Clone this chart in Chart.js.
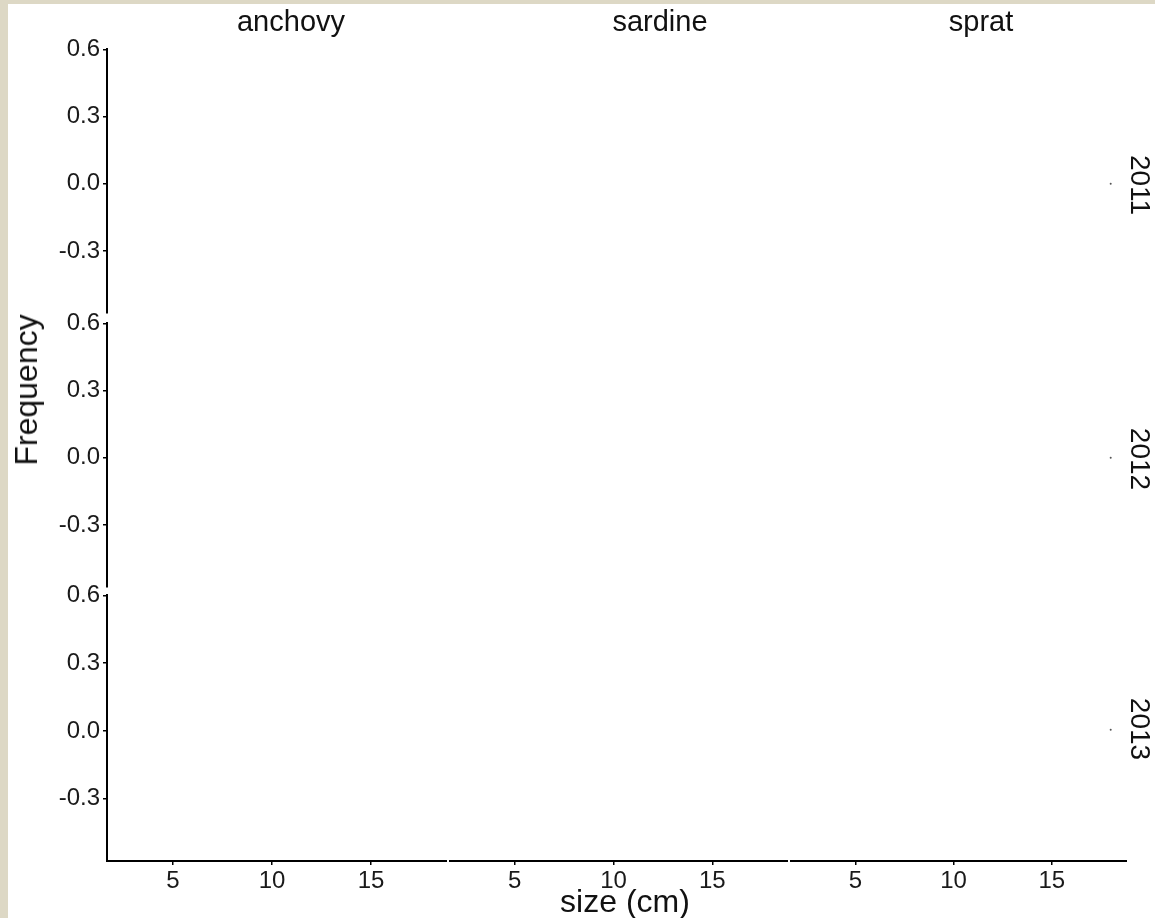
<!DOCTYPE html>
<html>
<head>
<meta charset="utf-8">
<script src="https://cdn.jsdelivr.net/npm/chart.js@4.4.1/dist/chart.umd.min.js"></script>
<style>
  html, body { margin: 0; padding: 0; }
  body { width: 1155px; height: 918px; background: #ddd8c5; position: relative; overflow: hidden;
         font-family: "Liberation Sans", Arial, sans-serif; }
  #page { position: absolute; left: 8px; top: 4px; right: 0; bottom: 0; background: #ffffff; }
  canvas { position: absolute; }
  .lbl { position: absolute; color: #111; white-space: nowrap; line-height: 1; }
</style>
</head>
<body>
<div id="page"></div>
<script>
// ---- data ----
const species = ['anchovy', 'sardine', 'sprat'];
const years = ['2011', '2012', '2013'];
const xTicks = [5, 10, 15];
const yTicks = [-0.3, 0.0, 0.3, 0.6];
const xLabel = 'size (cm)';
const yLabel = 'Frequency';
// frequency by size (cm) per panel; nothing visible except tiny marks in sprat panels
const anchovy2011 = [];
const anchovy2012 = [];
const anchovy2013 = [];
const sardine2011 = [];
const sardine2012 = [];
const sardine2013 = [];
const sprat2011 = [{ x: 18, y: 0.0 }];
const sprat2012 = [{ x: 18, y: 0.0 }];
const sprat2013 = [{ x: 18, y: 0.0 }];
const panelData = [
  [anchovy2011, sardine2011, sprat2011],
  [anchovy2012, sardine2012, sprat2012],
  [anchovy2013, sardine2013, sprat2013]
];

// ---- layout ----
const colLeft = [107, 449, 790];
const colWidth = [340, 339, 337];
const rowTop = [47, 321, 593];
const rowHeight = 268;
const xMin = 1.67, xMax = 18.83;
const yMin = -0.575, yMax = 0.6;
const FONT = '"Liberation Sans", Arial, sans-serif';

function addLabel(text, cx, cy, size, rot) {
  const d = document.createElement('div');
  d.className = 'lbl';
  d.textContent = text;
  d.style.fontSize = size + 'px';
  d.style.left = cx + 'px';
  d.style.top = cy + 'px';
  d.style.transform = 'translate(-50%, -50%)' + (rot ? ' rotate(' + rot + 'deg)' : '');
  document.body.appendChild(d);
}

function makePanel(ri, ci) {
  const showY = ci === 0, showX = ri === 2;
  const padL = showY ? 70 : 0;
  const padT = showY ? 15 : 0;
  const padB = showX ? 45 : (showY ? 15 : 0);
  const cv = document.createElement('canvas');
  const w = colWidth[ci] + padL, h = rowHeight + padT + padB;
  cv.width = w; cv.height = h;
  cv.style.left = (colLeft[ci] - padL) + 'px';
  cv.style.top = (rowTop[ri] - padT) + 'px';
  cv.style.width = w + 'px'; cv.style.height = h + 'px';
  document.body.appendChild(cv);

  new Chart(cv, {
    type: 'scatter',
    data: {
      datasets: [{
        data: panelData[ri][ci],
        pointRadius: 1,
        pointHoverRadius: 1,
        pointBackgroundColor: '#555',
        pointBorderWidth: 0,
        showLine: false,
        clip: false
      }]
    },
    options: {
      responsive: false,
      animation: false,
      events: [],
      layout: { autoPadding: false, padding: { top: padT, bottom: showX ? 0 : padB, left: 0, right: 0 } },
      plugins: { legend: { display: false }, tooltip: { enabled: false } },
      scales: {
        x: {
          type: 'linear', min: xMin, max: xMax,
          display: showX,
          afterFit: s => { if (showX) s.height = 45; },
          afterBuildTicks: s => { s.ticks = xTicks.map(v => ({ value: v })); },
          border: { display: true, color: '#000', width: 2 },
          grid: { display: true, drawOnChartArea: false, drawTicks: true, tickLength: 4, color: '#000', lineWidth: 1.5 },
          ticks: { font: { family: FONT, size: 24 }, color: '#1a1a1a', padding: 2, maxRotation: 0,
                   callback: v => String(v) }
        },
        y: {
          type: 'linear', min: yMin, max: yMax,
          display: showY,
          afterFit: s => { if (showY) s.width = 70; },
          afterBuildTicks: s => { s.ticks = yTicks.map(v => ({ value: v })); },
          border: { display: true, color: '#000', width: 2 },
          grid: { display: true, drawOnChartArea: false, drawTicks: true, tickLength: 4, color: '#000', lineWidth: 1.5 },
          ticks: { font: { family: FONT, size: 24 }, color: '#1a1a1a', padding: 3,
                   callback: v => Number(v).toFixed(1) }
        }
      }
    }
  });
}

for (let r = 0; r < years.length; r++)
  for (let c = 0; c < species.length; c++)
    makePanel(r, c);

// strip labels
const stripX = [291, 660, 981];
species.forEach((s, i) => addLabel(s, stripX[i], 21, 29, 0));
const rowLabelY = [185, 459, 729];
years.forEach((y, i) => addLabel(y, 1140, rowLabelY[i], 28, 90));
addLabel(yLabel, 26, 390, 32, -90);
addLabel(xLabel, 625, 901, 32, 0);
</script>
</body>
</html>
